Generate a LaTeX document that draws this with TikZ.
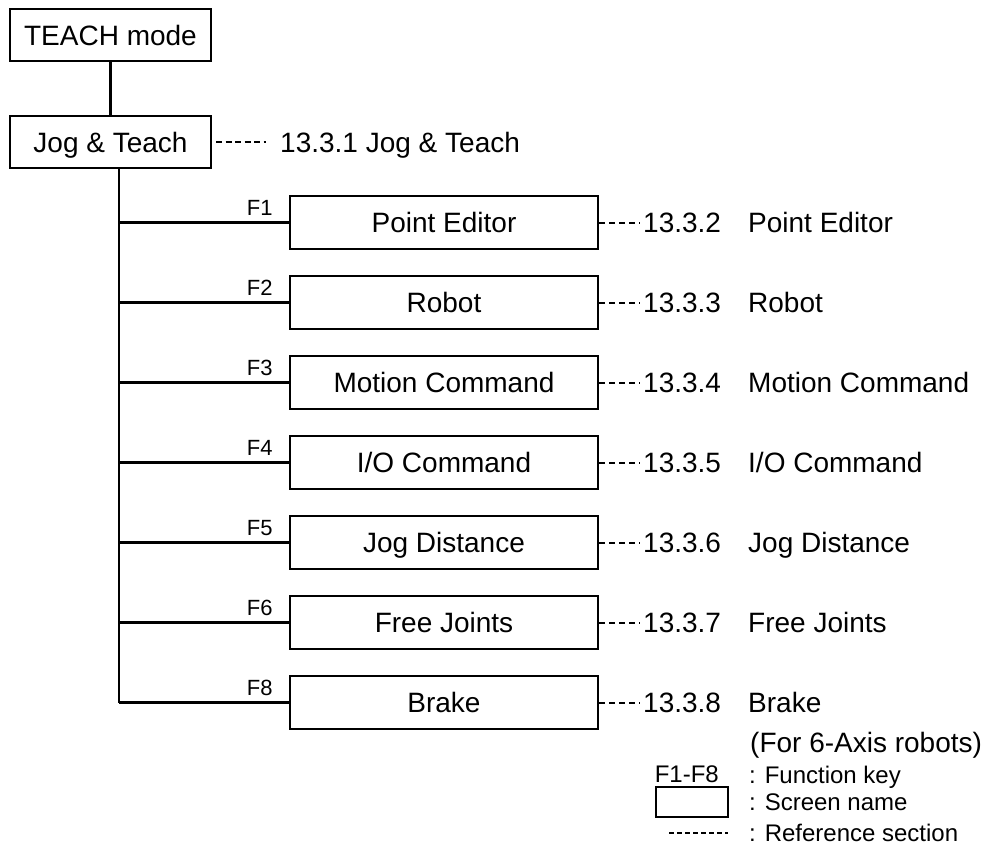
\documentclass[tikz,border=0pt]{standalone}
\usepackage{fontspec}
\setmainfont{Liberation Sans}
\begin{document}
\begin{tikzpicture}[x=1pt,y=-1pt,
  box/.style={draw,line width=2.4pt,minimum height=53pt,inner sep=0pt,text height=20pt,text depth=0pt,font=\fontsize{28}{32}\selectfont},
  scr/.style={box,minimum width=308pt},
  top/.style={box,minimum width=201pt,minimum height=52pt},
  conn/.style={line width=2.4pt},
  refd/.style={line width=2pt,dash pattern=on 6pt off 4pt},
  txt/.style={inner sep=0pt,anchor=west,text height=20pt,text depth=0pt,font=\fontsize{28}{32}\selectfont},
  fkey/.style={inner sep=0pt,anchor=base east,font=\fontsize{22}{26}\selectfont},
  leg/.style={inner sep=0pt,anchor=west,text height=17pt,text depth=0pt,font=\fontsize{24}{28}\selectfont}]
\useasboundingbox (0,0) rectangle (989,849);
\node[top] (t) at (110.5,35) {TEACH mode};
\node[top] (j) at (110.5,142) {Jog \& Teach};
\draw[conn] (t.south) -- (j.north);
\coordinate (jd) at (266,142);
\draw[line width=2pt,dash pattern=on 6pt off 3.5pt] ([xshift=4pt]j.east) -- (jd);
\node[txt] (jr) at (280,142) {13.3.1 Jog \& Teach};
\foreach \i/\k/\name/\num in {1/F1/{Point Editor}/13.3.2,2/F2/{Robot}/13.3.3,3/F3/{Motion Command}/13.3.4,4/F4/{I/O Command}/13.3.5,5/F5/{Jog Distance}/13.3.6,6/F6/{Free Joints}/13.3.7,7/F8/{Brake}/13.3.8}{
  \node[scr] (s\i) at (444,{222.5+80*(\i-1)}) {\name};
  \coordinate (b\i) at (119,{222.5+80*(\i-1)});
  \draw[conn] (b\i) -- (s\i.west);
  \node[fkey] (f\i) at ([xshift=-16pt,yshift=7pt]s\i.west) {\k};
  \coordinate (d\i) at (640,{222.5+80*(\i-1)});
  \draw[refd] (s\i.east) -- (d\i);
  \node[txt] (n\i) at (643,{222.5+80*(\i-1)}) {\num};
  \node[txt] (m\i) at (748,{222.5+80*(\i-1)}) {\name};
}
\coordinate (jt) at (119,168);
\draw[conn] (jt) -- (b7);
\node[txt] (ax) at (750,742) {(For 6-Axis robots)};
% legend
\node[leg,anchor=east] (lf) at (719,774) {F1-F8};
\node[leg] (lf2) at (749,775) {: Function key};
\node[draw,line width=2pt,minimum width=72pt,minimum height=30pt,inner sep=0pt] (lb) at (692,802) {};
\node[leg] (lb2) at (749,802) {: Screen name};
\coordinate (ld1) at (669,833);
\coordinate (ld2) at (728,833);
\draw[line width=1.6pt,dash pattern=on 5pt off 3pt] (ld1) -- (ld2);
\node[leg] (ld3) at (749,833) {: Reference section};
\end{tikzpicture}
\end{document}
